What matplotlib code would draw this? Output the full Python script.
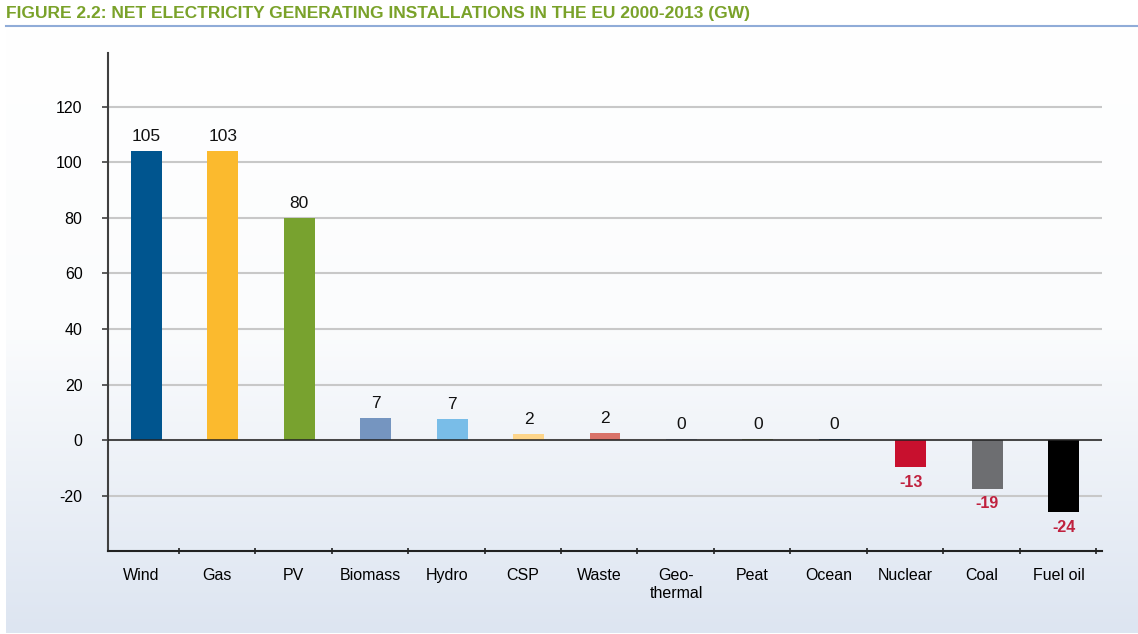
import numpy as np
import matplotlib
matplotlib.use("Agg")
import matplotlib.pyplot as plt
from matplotlib.lines import Line2D
from matplotlib.colors import LinearSegmentedColormap

# ---- data ----
categories = ["Wind", "Gas", "PV", "Biomass", "Hydro", "CSP", "Waste",
              "Geo-\nthermal", "Peat", "Ocean", "Nuclear", "Coal", "Fuel oil"]
bar_values = [104.1, 104.1, 79.9, 8.0, 7.7, 2.3, 2.7, 0.4, 0.4, 0.5, -9.5, -17.4, -25.7]
value_labels = ["105", "103", "80", "7", "7", "2", "2", "0", "0", "0", "-13", "-19", "-24"]
bar_colors = ["#00558f", "#fbba2e", "#78a22f", "#7595c0", "#79bde8", "#fdd58a",
              "#d9736a", "#8797b0", "#8a9960", "#2a5a8a", "#c8102e", "#6d6e71", "#000000"]
y_ticks = [-20, 0, 20, 40, 60, 80, 100, 120]
title = "FIGURE 2.2: NET ELECTRICITY GENERATING INSTALLATIONS IN THE EU 2000-2013 (GW)"

W, H = 1138, 634
fig = plt.figure(figsize=(W / 100, H / 100), dpi=100)
fig.patch.set_facecolor("white")

# background gradient panel
bg = fig.add_axes([6 / W, 1 / H, 1132 / W, 605 / H], zorder=0)
cmap = LinearSegmentedColormap.from_list("g", ["#ffffff", "#fbfcfd", "#dde5f1"])
grad = np.linspace(0, 1, 256).reshape(-1, 1)
bg.imshow(grad, aspect="auto", cmap=cmap, extent=[0, 1, 0, 1], origin="upper")
bg.set_axis_off()

font = ["Liberation Sans", "DejaVu Sans"]

# title and rule
fig.text(6 / W, 1 - 13.5 / H, title, fontsize=12.5, fontweight="bold",
         color="#7aa22a", family=font, ha="left", va="center")
fig.add_artist(Line2D([6 / W, 1.0], [1 - 26 / H, 1 - 26 / H], color="#90acd8", lw=1.5))

ax = fig.add_axes([108 / W, (H - 551) / H, 994 / W, 498 / H], zorder=1)
ax.set_facecolor("none")
x = np.arange(len(categories))
ax.bar(x, bar_values, width=0.405, color=bar_colors, zorder=3)

ax.set_xlim(-0.5, 12.5)
ax.set_ylim(-39.8, 139.3)

# grid and zero line
ax.set_yticks(y_ticks)
ax.set_yticklabels([str(v) for v in y_ticks], fontsize=11.5, family=font)
ax.grid(axis="y", color="#c8c8c8", lw=1.5, zorder=1)
ax.axhline(0, color="#222222", lw=1.1, zorder=4)
ax.tick_params(axis="y", direction="out", length=4.3, width=1.2, color="#404040", pad=14)

# x ticks: separators (major) and labels (minor)
ax.set_xticks(x + 0.425)
ax.set_xticklabels([])
ax.set_xticks(x - 0.07, minor=True)
ax.set_xticklabels(categories, minor=True, fontsize=11.5, family=font, linespacing=1.3)
ax.tick_params(axis="x", which="major", direction="inout", length=5, width=1.2, color="#222222")
ax.tick_params(axis="x", which="minor", length=0, pad=12)

for s in ["top", "right"]:
    ax.spines[s].set_visible(False)
ax.spines["left"].set_color("#404040")
ax.spines["left"].set_linewidth(1.5)
ax.spines["bottom"].set_color("#222222")
ax.spines["bottom"].set_linewidth(1.5)

# value labels
for xi, v, lab in zip(x, bar_values, value_labels):
    if v >= 0:
        ax.annotate(lab, (xi, v), xytext=(0, 10.5), textcoords="offset points",
                    ha="center", va="center", fontsize=12.5, color="#111111",
                    family=font, zorder=5)
    else:
        ax.annotate(lab, (xi, v), xytext=(0, -11), textcoords="offset points",
                    ha="center", va="center", fontsize=11.5, fontweight="bold",
                    color="#c0213e", family=font, zorder=5)

fig.savefig("out.png", dpi=100)
